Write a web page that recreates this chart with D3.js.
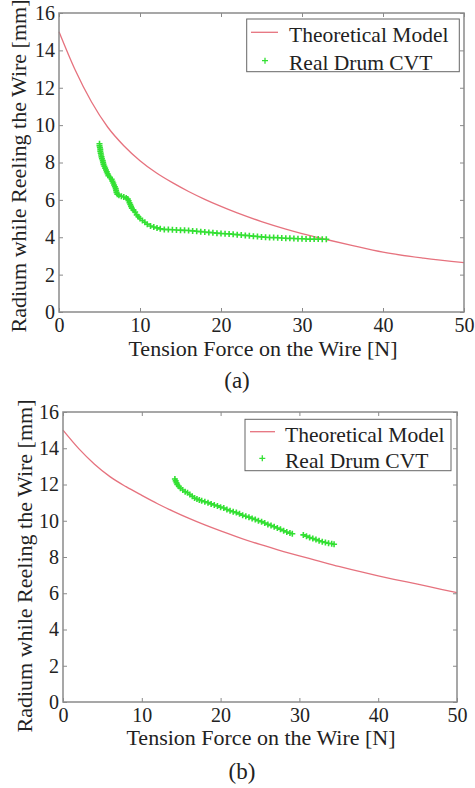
<!DOCTYPE html>
<html>
<head>
<meta charset="utf-8">
<script src="https://cdn.jsdelivr.net/npm/d3@7"></script>
<style>
  html, body { margin: 0; padding: 0; background: #fff; }
  svg text { font-family: "Liberation Serif", "Times New Roman", Tinos, "DejaVu Serif", serif; }
</style>
</head>
<body>
<svg id="chart" width="475" height="788"></svg>
<script>
// ---------- data ----------
const forceTicks = [0, 10, 20, 30, 40, 50];
const radiusTicks = [0, 2, 4, 6, 8, 10, 12, 14, 16];
const seriesNames = ["Theoretical Model", "Real Drum CVT"];
const xLabel = "Tension Force on the Wire [N]";
const yLabel = "Radium while Reeling the Wire [mm]";
const captions = ["(a)", "(b)"];

// (a) theoretical model: [force N, radius mm]
const modelA = [[0,15.0],[2,12.95],[4,11.25],[6,9.9],[8,8.9],[10,8.1],[12,7.45],[14,6.92],[16,6.45],[18,6.03],
  [20,5.65],[22,5.3],[25,4.84],[28,4.44],[30,4.2],[33,3.88],[36,3.58],[40,3.2],[45,2.88],[50,2.64]];
// (a) real drum CVT
const realA = [[5.0,9.0],[5.0,8.9],[5.05,8.8],[5.1,8.7],[5.1,8.6],[5.15,8.5],[5.2,8.4],[5.25,8.3],[5.3,8.2],[5.4,8.1],
  [5.45,8.0],[5.5,7.9],[5.6,7.8],[5.7,7.7],[5.8,7.6],[5.9,7.5],[6.0,7.4],[6.1,7.3],[6.3,7.2],[6.5,7.1],[6.6,7.0],
  [6.7,6.9],[6.8,6.8],[6.9,6.7],[7.0,6.6],[7.05,6.5],[7.1,6.4],[7.2,6.3],[7.4,6.25],[7.7,6.2],[8.0,6.15],[8.3,6.1],
  [8.5,6.05],[8.6,5.95],[8.7,5.85],[8.8,5.75],[8.9,5.65],[9.0,5.55],[9.2,5.45],[9.4,5.35],[9.6,5.2],[9.8,5.1],
  [10.0,5.0],[10.3,4.9],[10.6,4.8],[10.9,4.7],[11.3,4.6],[11.7,4.55],[12.1,4.5],[12.5,4.45],
  [13.0,4.42],[13.5,4.41],[14.0,4.40],[14.5,4.39],[15.0,4.38],[15.5,4.37],[16.0,4.36],[16.5,4.34],[17.0,4.32],
  [17.5,4.3],[18,4.28],[18.5,4.26],[19,4.24],[19.5,4.22],[20,4.2],[20.5,4.19],[21,4.18],[21.5,4.16],[22,4.14],
  [22.5,4.12],[23,4.1],[23.5,4.08],[24,4.06],[24.5,4.04],[25,4.02],[25.5,4.0],[26,3.99],[26.5,3.98],[27,3.97],
  [27.5,3.96],[28,3.95],[28.5,3.94],[29,3.93],[29.5,3.92],[30,3.92],[30.5,3.91],[31,3.9],[31.5,3.9],[32,3.9],
  [32.5,3.89],[33,3.89]];

// (b) theoretical model
const modelB = [[0,15.0],[2,13.98],[4,13.12],[6,12.42],[8,11.88],[10,11.4],[12,10.94],[14,10.52],[16,10.13],
  [18,9.77],[20,9.44],[22,9.13],[25,8.69],[28,8.3],[30,8.06],[32,7.83],[35,7.48],[38,7.16],[40,6.96],[42,6.77],
  [45,6.5],[48,6.22],[50,6.04]];
// (b) real drum CVT
const realB = [[14.2,12.3],[14.3,12.2],[14.4,12.1],[14.5,12.0],[14.7,11.9],[14.9,11.8],[15.2,11.7],[15.5,11.6],
  [15.8,11.55],[16.1,11.45],[16.4,11.35],[16.7,11.25],[17.0,11.2],[17.3,11.15],[17.6,11.1],[18.0,11.05],[18.4,11.0],
  [18.8,10.93],[19.2,10.87],[19.6,10.82],[20.0,10.75],[20.4,10.7],[20.8,10.62],[21.2,10.55],[21.6,10.5],[22.0,10.45],
  [22.4,10.38],[22.8,10.3],[23.2,10.25],[23.6,10.2],[24.0,10.13],[24.4,10.07],[24.8,10.0],[25.2,9.95],[25.6,9.88],
  [26.0,9.8],[26.4,9.74],[26.8,9.67],[27.2,9.6],[27.6,9.53],[28.0,9.45],[28.4,9.38],[28.8,9.32],[29.1,9.28],
  [30.5,9.22],[30.9,9.15],[31.3,9.08],[31.7,9.02],[32.1,8.96],[32.5,8.9],[32.9,8.84],[33.3,8.8],[33.7,8.76],
  [34.1,8.73],[34.4,8.7]];

// ---------- layout ----------
const FONT = '"Liberation Serif", "Times New Roman", Tinos, "DejaVu Serif", serif';
const RED = "#e6727e", GREEN = "#33e033", FRAME = "#8a8a8a", TEXT = "#222";
const panels = [
  { model: modelA, real: realA, left: 59, right: 464, top: 13, bottom: 312,
    ylabX: 25.5, ylabY: 166, xlabX: 263, xlabY: 356, capX: 237, capY: 388,
    leg: { x: 246.7, y: 19, w: 212.6, h: 52.7, lx1: 251, lx2: 278, ly: 32.3, px: 265, py: 60.7, tx: 289, t1: 42, t2: 70 } },
  { model: modelB, real: realB, left: 63, right: 457, top: 412, bottom: 702,
    ylabX: 31.5, ylabY: 566, xlabX: 261, xlabY: 745, capX: 242, capY: 779,
    leg: { x: 245, y: 419.3, w: 206, h: 51.4, lx1: 250, lx2: 275, ly: 431.7, px: 262.3, py: 458.3, tx: 285, t1: 441.5, t2: 468 } }
];

const svg = d3.select("#chart");

function plus(cx, cy, s) {
  return `M${cx - s},${cy}H${cx + s}M${cx},${cy - s}V${cy + s}`;
}

panels.forEach((p, i) => {
  const x = d3.scaleLinear().domain([0, 50]).range([p.left, p.right]);
  const y = d3.scaleLinear().domain([0, 16]).range([p.bottom, p.top]);
  const g = svg.append("g");

  // curve
  g.append("path").datum(p.model)
    .attr("fill", "none").attr("stroke", RED).attr("stroke-width", 1.3)
    .attr("d", d3.line().curve(d3.curveMonotoneX).x(d => x(d[0])).y(d => y(d[1])));

  // markers
  g.append("path")
    .attr("fill", "none").attr("stroke", GREEN).attr("stroke-width", 1.6)
    .attr("d", p.real.map(d => plus(x(d[0]), y(d[1]), 3)).join(""));

  // axes
  const styleAxis = (sel, showLabels) => {
    sel.attr("font-family", FONT).attr("font-size", 20);
    sel.select(".domain").remove();
    sel.selectAll(".tick line").attr("stroke", FRAME).attr("stroke-width", 1);
    sel.selectAll(".tick text").attr("fill", TEXT)
      .style("font-family", FONT).style("font-size", "20px")
      .attr("opacity", showLabels ? 1 : 0);
  };
  g.append("g").attr("transform", `translate(0,${p.bottom})`)
    .call(d3.axisBottom(x).tickValues(forceTicks).tickSize(-4).tickPadding(6))
    .call(s => styleAxis(s, true));
  g.append("g").attr("transform", `translate(0,${p.top})`)
    .call(d3.axisTop(x).tickValues(forceTicks).tickSize(-4).tickFormat(""))
    .call(s => styleAxis(s, false));
  g.append("g").attr("transform", `translate(${p.left},0)`)
    .call(d3.axisLeft(y).tickValues(radiusTicks).tickSize(-4).tickPadding(4))
    .call(s => styleAxis(s, true));
  g.append("g").attr("transform", `translate(${p.right},0)`)
    .call(d3.axisRight(y).tickValues(radiusTicks).tickSize(-4).tickFormat(""))
    .call(s => styleAxis(s, false));

  // frame
  g.append("rect")
    .attr("x", p.left).attr("y", p.top)
    .attr("width", p.right - p.left).attr("height", p.bottom - p.top)
    .attr("fill", "none").attr("stroke", FRAME).attr("stroke-width", 1.5);

  const txt = (sel, size) => sel.attr("fill", TEXT).style("font-family", FONT).style("font-size", size + "px");

  // axis labels
  g.append("text").attr("x", p.xlabX).attr("y", p.xlabY)
    .attr("text-anchor", "middle").call(txt, 22).text(xLabel);
  g.append("text").attr("transform", `translate(${p.ylabX},${p.ylabY}) rotate(-90)`)
    .attr("text-anchor", "middle").call(txt, 22).text(yLabel);
  g.append("text").attr("x", p.capX).attr("y", p.capY)
    .attr("text-anchor", "middle").call(txt, 23).text(captions[i]);

  // legend
  const L = p.leg;
  const lg = g.append("g");
  lg.append("rect").attr("x", L.x).attr("y", L.y).attr("width", L.w).attr("height", L.h)
    .attr("fill", "#fff").attr("stroke", "#666").attr("stroke-width", 1);
  lg.append("line").attr("x1", L.lx1).attr("x2", L.lx2).attr("y1", L.ly).attr("y2", L.ly)
    .attr("stroke", RED).attr("stroke-width", 1.3);
  lg.append("path").attr("d", plus(L.px, L.py, 3)).attr("stroke", GREEN).attr("stroke-width", 1.3).attr("fill", "none");
  lg.append("text").attr("x", L.tx).attr("y", L.t1).call(txt, 21.5).text(seriesNames[0]);
  lg.append("text").attr("x", L.tx).attr("y", L.t2).call(txt, 21.5).text(seriesNames[1]);
});
</script>
</body>
</html>
